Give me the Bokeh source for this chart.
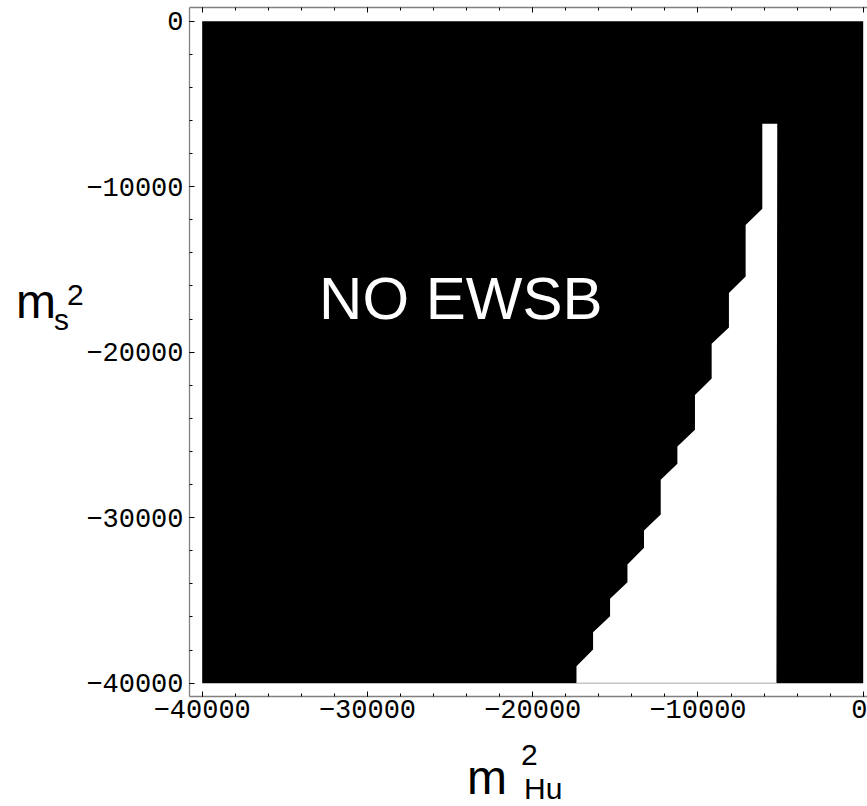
from bokeh.plotting import figure
from bokeh.models import Range1d, LinearAxis, FixedTicker, Label, BasicTickFormatter, Div
from bokeh.layouts import row, column
from bokeh.embed import file_html
from bokeh.resources import INLINE

# ---- data -------------------------------------------------------------
region_x = [-40000, 0]          # extent of the scanned parameter plane (m_Hu^2)
region_y = [-40000, 0]          # extent of the scanned parameter plane (m_s^2)

# boundary of the EWSB (white) region
ewsb_x = [-6106, -6106, -7115, -7115, -8125, -8125, -9170, -9170, -10180, -10180,
          -11244, -11244, -12253, -12253, -13263, -13263, -14266, -14266, -15318, -15318,
          -16346, -16346, -17350, -17350, -5250, -5200]
ewsb_y = [-6199, -11335, -12314, -15426, -16423, -18508, -19492, -21589, -22586, -24689,
          -25698, -26743, -27710, -29807, -30773, -31819, -32828, -33897, -34900, -35952,
          -36918, -37964, -38973, -40000, -40000, -6199]

major_ticks = [-40000, -30000, -20000, -10000, 0]
minor_ticks = [-40000, -38000, -36000, -34000, -32000, -30000, -28000, -26000, -24000,
               -22000, -20000, -18000, -16000, -14000, -12000, -10000, -8000, -6000,
               -4000, -2000, 0]

# ---- figure -----------------------------------------------------------
LEFT_W = 83
FIG_H = 736
p = figure(width=867 - LEFT_W, height=FIG_H,
           x_range=Range1d(-40768, 260), y_range=Range1d(-40804, 828),
           x_axis_location=None, y_axis_location=None,
           output_backend="svg", toolbar_location=None,
           min_border_left=188 - LEFT_W, min_border_right=0,
           min_border_top=7, min_border_bottom=FIG_H - 696,
           margin=(0, 0, 0, 0))
p.outline_line_color = None
p.grid.visible = False
p.background_fill_color = "white"

p.quad(left=[region_x[0]], right=[region_x[1]], bottom=[region_y[0]], top=[region_y[1]],
       fill_color="black", line_color=None)
p.patch(ewsb_x, ewsb_y, fill_color="white", line_color=None)
# faint contour edge along the bottom of the white region
p.line(ewsb_x[-3:-1], ewsb_y[-3:-1], line_color="#c4c4c4", line_width=1.2)

bottom_axis = LinearAxis()
left_axis = LinearAxis()
top_axis = LinearAxis()
p.add_layout(bottom_axis, "below")
p.add_layout(left_axis, "left")
p.add_layout(top_axis, "above")

for ax in [bottom_axis, left_axis, top_axis]:
    ax.ticker = FixedTicker(ticks=major_ticks, minor_ticks=minor_ticks)
    ax.formatter = BasicTickFormatter(use_scientific=False)
    ax.axis_line_color = "#808080"
    ax.axis_line_width = 1.3
    ax.major_tick_in = 5
    ax.major_tick_out = 0
    ax.minor_tick_in = 3
    ax.minor_tick_out = 0
    ax.major_tick_line_color = "black"
    ax.minor_tick_line_color = "black"
    ax.major_label_text_font = "Liberation Mono"
    ax.major_label_text_font_size = "27px"
    ax.major_label_text_color = "black"

bottom_axis.major_label_standoff = 3
left_axis.major_label_standoff = 6
top_axis.major_label_overrides = {t: "" for t in major_ticks}
top_axis.major_label_text_font_size = "1px"
top_axis.major_label_standoff = 0

# ---- texts ------------------------------------------------------------
p.add_layout(Label(x=-32926, y=-16755, text="NO EWSB", text_color="white",
                   text_font="Liberation Sans", text_font_size="60px",
                   text_align="left", text_baseline="alphabetic"))

def span(t, left, top, size):
    return (f'<span style="position:absolute;left:{left}px;top:{top}px;'
            f'font-size:{size}px;line-height:1;white-space:nowrap;">{t}</span>')

wrap = ('<div style="position:relative;width:{w}px;height:{h}px;margin:0;padding:0;'
        'font-family:\'Liberation Sans\',Arial,sans-serif;color:black;">{c}</div>')

ylab = wrap.format(w=LEFT_W, h=FIG_H,
                   c=span("m", 16, 278, 48) + span("s", 54, 305, 30) + span("2", 67, 280, 30))
xlab = wrap.format(w=867, h=806 - FIG_H,
                   c=span("m", 467, 18, 48) + span("2", 521, 4, 30) + span("Hu", 524, 38, 30))

left_div = Div(text=ylab, width=LEFT_W, height=FIG_H, margin=(0, 0, 0, 0),
               styles={"overflow": "visible", "padding": "0", "margin": "0"})
bottom_div = Div(text=xlab, width=867, height=806 - FIG_H, margin=(0, 0, 0, 0),
                 styles={"overflow": "visible", "padding": "0", "margin": "0"})

layout = column(row(left_div, p, spacing=0, margin=(0, 0, 0, 0)), bottom_div,
                spacing=0, margin=(0, 0, 0, 0))

open("out.html", "w").write(file_html(layout, INLINE))
